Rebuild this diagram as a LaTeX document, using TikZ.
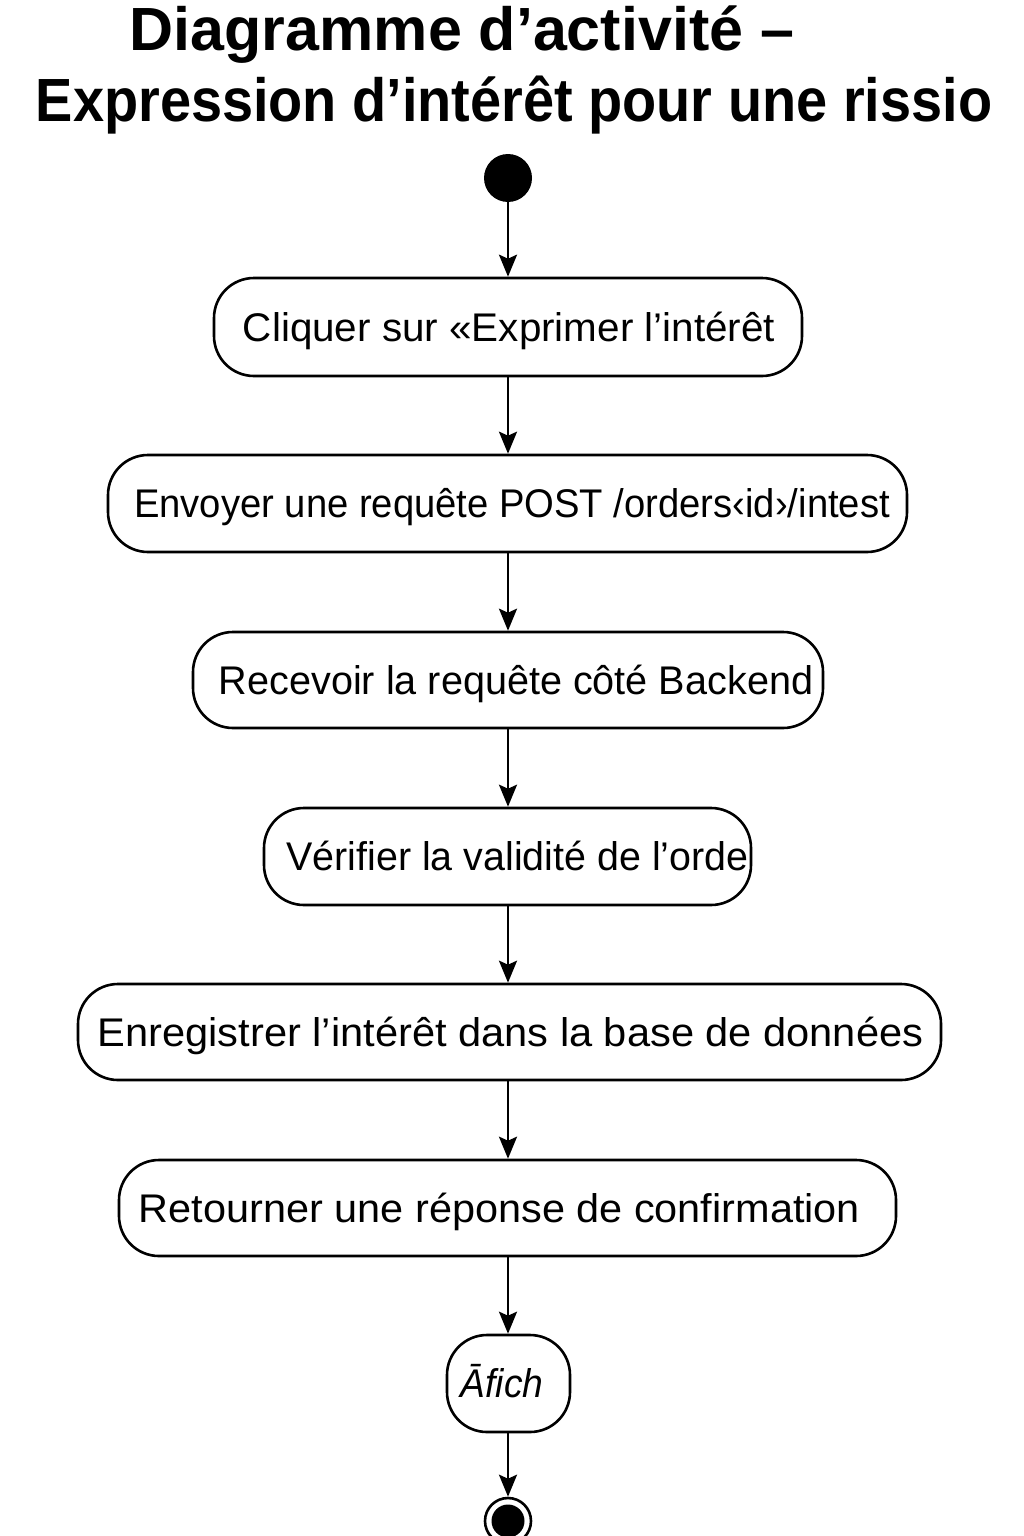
\documentclass[tikz,border=0pt]{standalone}
\usepackage{fontspec}
\setmainfont{Liberation Sans}
\usetikzlibrary{arrows.meta}
\tikzset{
  act/.style={draw=black, line width=2.6pt, rounded corners=40pt, inner sep=0pt, fill=white},
  acttext/.style={anchor=base, inner sep=0pt, transform shape, font=\fontsize{40}{42}\selectfont},
  flow/.style={line width=2.6pt, -{Stealth[length=22pt,width=18pt,inset=4pt]}},
  titletext/.style={anchor=base, inner sep=0pt, transform shape, font=\bfseries\fontsize{61}{63}\selectfont}
}
\begin{document}
\begin{tikzpicture}[x=1pt,y=1pt]
\useasboundingbox (0,0) rectangle (1024,-1536);
\fill[white] (0,0) rectangle (1024,-1536);
% title
\node[titletext, xscale=1.0] (t1) at (462,-51) {Diagramme d’activité –};
\node[titletext, xscale=0.916] (t2) at (514,-122) {Expression d’intérêt pour une rissio};
% start
\node[circle, fill=black, minimum size=48pt, inner sep=0pt] (start) at (508,-178) {};
% boxes
\node[act, minimum width=588pt, minimum height=98pt] (b1) at (508,-327) {};
\node[act, minimum width=799pt, minimum height=97pt] (b2) at (507.5,-503.5) {};
\node[act, minimum width=630pt, minimum height=96pt] (b3) at (508,-680) {};
\node[act, minimum width=487pt, minimum height=97pt] (b4) at (507.5,-856.5) {};
\node[act, minimum width=863pt, minimum height=96pt] (b5) at (509.5,-1032) {};
\node[act, minimum width=777pt, minimum height=96pt] (b6) at (507.5,-1208) {};
\node[act, minimum width=123pt, minimum height=97pt] (b7) at (508.5,-1383.5) {};
% texts
\node[acttext, xscale=1.01] (x1) at (509,-341) {Cliquer sur «Exprimer l’intérêt};
\node[acttext, xscale=0.955] (x2) at (512,-517.5) {Envoyer une requête POST /orders‹id›/intest};
\node[acttext, xscale=0.99] (x3) at (516,-694) {Recevoir la requête côté Backend};
\node[acttext, xscale=0.985] (x4) at (517.5,-870.5) {Vérifier la validité de l’orde};
\node[acttext, xscale=1.04] (x5) at (510.5,-1046) {Enregistrer l’intérêt dans la base de données};
\node[acttext, xscale=1.036] (x6) at (499.5,-1222) {Retourner une réponse de confirmation};
\node[acttext, xscale=0.93, font=\itshape\fontsize{40}{42}\selectfont] (x7) at (502,-1397.5) {Āfich};
% end
\node[circle, draw=black, line width=2.6pt, minimum size=46pt, inner sep=0pt] (end) at (508,-1521) {};
\node[circle, fill=black, minimum size=33pt, inner sep=0pt] (endin) at (end.center) {};
% flows
\draw[flow] (start) -- (b1);
\draw[flow] (b1) -- (b2.north -| b1.south);
\draw[flow] (b1.south |- b2.south) -- (b3.north -| b1.south);
\draw[flow] (b1.south |- b3.south) -- (b4.north -| b1.south);
\draw[flow] (b1.south |- b4.south) -- (b5.north -| b1.south);
\draw[flow] (b1.south |- b5.south) -- (b6.north -| b1.south);
\draw[flow] (b1.south |- b6.south) -- (b7.north -| b1.south);
\draw[flow] (b1.south |- b7.south) -- (end.north -| b1.south);
\end{tikzpicture}
\end{document}
